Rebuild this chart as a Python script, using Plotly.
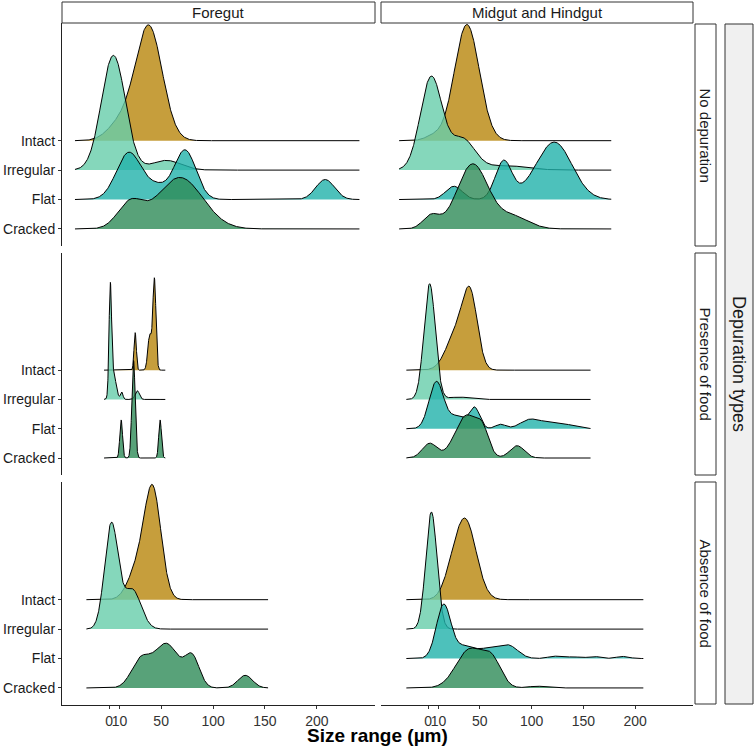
import numpy as np
import plotly.graph_objects as go

# ---------------- data ----------------
categories = ["Intact", "Irregular", "Flat", "Cracked"]
baselines = [4, 3, 2, 1]
guts = ["Foregut", "Midgut and Hindgut"]
depurations = ["No depuration", "Presence of food", "Absence of food"]
x_tick_vals = [0, 10, 50, 100, 150, 200]
x_tick_text = ["0", "10", "50", "100", "150", "200"]

# kernel components of each density ridge: (centre µm, bandwidth µm, height)
fg_nodep_intact = [(38, 13, 3.9), (10, 12, 0.55)]
fg_nodep_irregular = [(4, 11.5, 3.9), (55, 14, 0.33)]
fg_nodep_flat = [(19, 12, 1.6), (46, 10, 0.4), (73, 10.5, 1.68), (208, 9, 0.68)]
fg_nodep_cracked = [(20, 12, 0.85), (68, 22, 1.75)]

fg_food_intact = [(25, 1.1, 1.28), (43.5, 1.5, 3.1), (39, 1.8, 1.2)]
fg_food_irregular = [(1, 1.2, 3.55), (4, 2.5, 0.9), (12, 1.2, 0.25), (27, 2, 0.3)]
fg_food_flat = []
fg_food_cracked = [(11.5, 1.3, 1.3), (23.4, 1.6, 3.33), (49, 1.3, 1.3)]

fg_nofood_intact = [(42, 8, 3.65), (27, 9, 1.0)]
fg_nofood_irregular = [(2, 6.5, 3.55), (22, 8.5, 1.35)]
fg_nofood_flat = []
fg_nofood_cracked = [(30, 9, 0.9), (55, 12, 1.5), (80, 7, 1.0), (131, 7, 0.43)]

mh_nodep_intact = [(37.5, 12, 3.95), (5, 8, 0.15)]
mh_nodep_irregular = [(3, 10.5, 3.15), (33, 12, 1.05), (75, 20, 0.15)]
mh_nodep_flat = [(25, 8, 0.45), (73, 8, 1.3), (122, 17, 1.95), (95, 10, 0.1)]
mh_nodep_cracked = [(3, 8, 0.45), (43, 15, 2.2), (82, 15, 0.42)]

mh_food_intact = [(41, 7, 2.25), (28, 10, 1.3)]
mh_food_irregular = [(1.5, 5.5, 3.95), (30, 10, 0.08)]
mh_food_flat = [(8, 7, 1.6), (28, 8, 0.42), (45, 5, 0.7), (70, 5, 0.15),
                (98, 9, 0.3), (118, 10, 0.2), (135, 10, 0.1)]
mh_food_cracked = [(1.5, 7, 0.5), (37, 11, 1.45), (53, 6, 0.7), (86, 7, 0.42)]

mh_nofood_intact = [(36, 10.5, 2.68), (22, 8, 0.4)]
mh_nofood_irregular = [(3.2, 5.4, 3.98)]
mh_nofood_flat = [(15, 7, 1.82), (35, 9, 0.4), (58, 10, 0.32), (78, 9, 0.42),
                  (122, 6, 0.08), (140, 6, 0.06), (160, 6, 0.07), (188, 6, 0.07)]
mh_nofood_cracked = [(40, 13, 1.3), (62, 9, 0.85), (105, 8, 0.06)]

# data range (µm) of each panel
fg_ranges = [(-33, 241), (-5, 54), (-22, 153)]
mh_ranges = [(-28, 177), (-21, 157), (-21, 208)]

panels = {
    (0, 0): [fg_nodep_intact, fg_nodep_irregular, fg_nodep_flat, fg_nodep_cracked],
    (1, 0): [fg_food_intact, fg_food_irregular, fg_food_flat, fg_food_cracked],
    (2, 0): [fg_nofood_intact, fg_nofood_irregular, fg_nofood_flat, fg_nofood_cracked],
    (0, 1): [mh_nodep_intact, mh_nodep_irregular, mh_nodep_flat, mh_nodep_cracked],
    (1, 1): [mh_food_intact, mh_food_irregular, mh_food_flat, mh_food_cracked],
    (2, 1): [mh_nofood_intact, mh_nofood_irregular, mh_nofood_flat, mh_nofood_cracked],
}
ranges = {(r, 0): fg_ranges[r] for r in range(3)}
ranges.update({(r, 1): mh_ranges[r] for r in range(3)})

# ---------------- styling ----------------
fill_colors = {
    "Intact": "rgba(184,134,11,0.8)",
    "Irregular": "rgba(102,205,170,0.8)",
    "Flat": "rgba(32,178,170,0.8)",
    "Cracked": "rgba(46,139,87,0.8)",
}
W, H = 755, 746
FONT = "Liberation Sans, Arial, sans-serif"
TXT = "#1a1a1a"
col_px = [(62, 375), (381, 693)]
row_px = [(23, 246), (253, 475), (482, 705)]
XR = [-45.5, 256]
YR = [0.42, 8.0]


def px(x):
    return x / W


def py(y):
    return 1 - y / H


def ridge(comps, xs):
    h = np.zeros_like(xs)
    for c, s, a in comps:
        h += a * np.exp(-0.5 * ((xs - c) / s) ** 2)
    return h


fig = go.Figure()
layout = dict(
    width=W, height=H,
    margin=dict(l=0, r=0, t=0, b=0),
    paper_bgcolor="white", plot_bgcolor="white",
    showlegend=False,
    font=dict(family=FONT, color=TXT),
)

for r in range(3):
    for c in range(2):
        idx = r * 2 + c + 1
        xa = "x" if idx == 1 else f"x{idx}"
        ya = "y" if idx == 1 else f"y{idx}"
        lo, hi = ranges[(r, c)]
        xs = np.linspace(lo, hi, 900)
        for cat, base, comps in zip(categories, baselines, panels[(r, c)]):
            if not comps:
                continue
            yv = base + ridge(comps, xs)
            fig.add_trace(go.Scatter(
                x=np.concatenate([xs, xs[::-1]]),
                y=np.concatenate([yv, np.full_like(xs, base)]),
                fill="toself", fillcolor=fill_colors[cat],
                line=dict(width=0), mode="lines", hoverinfo="skip",
                xaxis=xa, yaxis=ya))
            fig.add_trace(go.Scatter(
                x=xs, y=yv, mode="lines",
                line=dict(color="black", width=1), hoverinfo="skip",
                xaxis=xa, yaxis=ya))
        xkey = "xaxis" if idx == 1 else f"xaxis{idx}"
        ykey = "yaxis" if idx == 1 else f"yaxis{idx}"
        layout[xkey] = dict(
            domain=[px(col_px[c][0]), px(col_px[c][1])], anchor=ya,
            range=XR, showgrid=False, zeroline=False,
            showline=(r == 2), linecolor="#222", linewidth=1,
            ticks="outside" if r == 2 else "", ticklen=3, tickcolor="#333",
            tickvals=x_tick_vals, ticktext=x_tick_text, tickangle=0,
            showticklabels=(r == 2),
            tickfont=dict(size=14, color="#333", family=FONT),
        )
        layout[ykey] = dict(
            domain=[py(row_px[r][1]), py(row_px[r][0])], anchor=xa,
            range=YR, showgrid=False, zeroline=False,
            showline=(c == 0), linecolor="#222", linewidth=1,
            ticks="outside" if c == 0 else "", ticklen=3, tickcolor="#333",
            tickvals=baselines, ticktext=categories,
            showticklabels=(c == 0),
            tickfont=dict(size=14, color=TXT, family=FONT),
        )

fig.update_layout(**layout)

shapes = []
annotations = []
# top strips
for c in range(2):
    shapes.append(dict(type="rect", xref="paper", yref="paper",
                       x0=px(col_px[c][0]), x1=px(col_px[c][1]),
                       y0=py(23), y1=py(2),
                       line=dict(color="#333", width=1), fillcolor="white"))
    annotations.append(dict(text=guts[c], xref="paper", yref="paper",
                            x=px((col_px[c][0] + col_px[c][1]) / 2), y=py(12.5),
                            showarrow=False, font=dict(size=15, color=TXT, family=FONT),
                            xanchor="center", yanchor="middle"))
# right strips
strip_rows = [(24, 246), (253, 475), (482, 704)]
for r in range(3):
    shapes.append(dict(type="rect", xref="paper", yref="paper",
                       x0=px(695), x1=px(716),
                       y0=py(strip_rows[r][1]), y1=py(strip_rows[r][0]),
                       line=dict(color="#333", width=1), fillcolor="white"))
    annotations.append(dict(text=depurations[r], xref="paper", yref="paper",
                            x=px(705.5), y=py((strip_rows[r][0] + strip_rows[r][1]) / 2),
                            showarrow=False, textangle=90,
                            font=dict(size=15, color=TXT, family=FONT),
                            xanchor="center", yanchor="middle"))
# outer strip
shapes.append(dict(type="rect", xref="paper", yref="paper",
                   x0=px(725), x1=px(753), y0=py(704), y1=py(24),
                   line=dict(color="#333", width=1), fillcolor="#f0f0f0"))
annotations.append(dict(text="Depuration types", xref="paper", yref="paper",
                        x=px(739), y=py(364), showarrow=False, textangle=90,
                        font=dict(size=18, color=TXT, family=FONT),
                        xanchor="center", yanchor="middle"))
# x-axis title
annotations.append(dict(text="<b>Size range (µm)</b>", xref="paper", yref="paper",
                        x=px(377.5), y=py(735), showarrow=False,
                        font=dict(size=19, color="black", family=FONT),
                        xanchor="center", yanchor="middle"))

fig.update_layout(shapes=shapes, annotations=annotations)
fig.write_html("out.html",
               config={"displayModeBar": False},
               post_script="document.body.style.margin='0';document.body.style.padding='0';")
